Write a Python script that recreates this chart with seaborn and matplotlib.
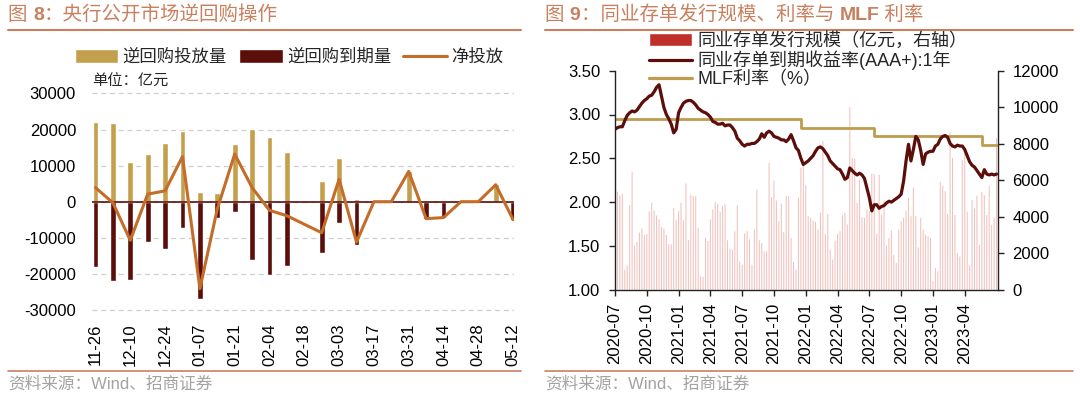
"""
Two-panel chart: PBOC reverse repo operations (fig 8) and NCD issuance,
NCD 1Y yield and MLF rate (fig 9). Saves out.png.
"""
import matplotlib
matplotlib.use("Agg")
import matplotlib.pyplot as plt
from matplotlib.lines import Line2D
from matplotlib.patches import Patch
import numpy as np
import pandas as pd
import seaborn as sns

# ---- fig 8: weekly reverse repo operations (亿元), 02-18 has no data
repo_weeks = ["11-26", "12-03", "12-10", "12-17", "12-24", "12-31", "01-07", "01-14",
              "01-21", "01-28", "02-04", "02-11", "02-18", "02-25", "03-03", "03-10",
              "03-17", "03-24", "03-31", "04-07", "04-14", "04-21", "04-28", "05-05", "05-12"]
repo_inject = [22000, 21800, 11100, 13200, 16200, 19700, 2800, 2500, 16000, 20100, 17900,
               13900, np.nan, 5600, 12000, 800, 200, 200, 8600, 0, 0, 200, 200, 4900, 0]
repo_mature = [-18100, -22100, -21800, -11100, -13200, -7200, -26900, -4600, -2800, -16200,
               -20300, -17800, np.nan, -14200, -5800, -12000, -200, -200, -200, -4700,
               -4400, -200, -200, -200, -5000]
repo_net = [3900, -300, -10700, 2100, 3000, 12500, -24100, -2000, 13200, 3900, -2400,
            -3900, np.nan, -8600, 6200, -11200, 0, 0, 8400, -4700, -4400, 0, 0, 4700, -5000]

# ---- fig 9: weekly NCD issuance (亿元), 1Y AAA+ NCD yield (%), MLF (%)
ncd_tick_labels = ["2020-07", "2020-10", "2021-01", "2021-04", "2021-07", "2021-10",
                   "2022-01", "2022-04", "2022-07", "2022-10", "2023-01", "2023-04"]
ncd_issue = [
    1200, 5370, 5170, 5260, 1100, 1320, 4630, 6470, 2400, 2620, 3130, 3350, 2990, 3040,
    4300, 4760, 4340, 4070, 3850, 3430, 3350, 3000, 2490, 2490, 4490, 3810, 4300, 4760,
    3810, 5830, 2710, 5220, 5130, 5130, 3390, 730, 700, 2850, 2670, 3850, 4400, 4820,
    4700, 4270, 4610, 4670, 2710, 2250, 2200,
    3200, 4630, 1560, 1370, 3070, 3220, 2760, 1370, 3300, 5490, 2710, 2560, 2100, 2100,
    6960, 5070, 5990, 4890, 3750, 4710, 3150, 5130, 5130, 2840, 1520, 1100, 5040, 6690,
    6830, 5730, 4030, 3940, 3790, 3720, 3300, 4220, 8160, 3060, 4160, 2200, 1650, 2690,
    3060, 3210, 4090, 4220, 3580, 10000, 7220, 7180, 4760, 6040,
    3970, 3940, 4400, 4300, 6360, 6320, 3070, 6290, 4120, 4890, 2420, 2840, 3240, 1920,
    1460, 3300, 3750, 3940, 4340, 5040, 4030, 5590, 4030, 2330, 3940, 3300, 3020, 2930,
    2840, 460, 1190, 1010,
    5910, 5690, 5400, 4150, 8640, 7220, 4090, 2000, 1820, 7090, 7550, 4270, 1330, 4910,
    4450, 5150, 2450, 5360, 5180, 4090, 5690, 3550, 3950, 8310,
]
ncd_yield = [
    2.83, 2.85, 2.86, 2.86, 2.93, 2.99, 3.02, 3.04, 3.03, 3.05,
    3.09, 3.13, 3.16, 3.18, 3.21, 3.22, 3.26, 3.31, 3.34, 3.21,
    3.08, 3.00, 2.95, 2.89, 2.79, 2.83, 3.02, 3.08, 3.13, 3.15,
    3.16, 3.16, 3.14, 3.11, 3.07, 3.05, 3.03, 3.02, 3.00, 2.97,
    2.92, 2.91, 2.89, 2.89, 2.90, 2.87, 2.88, 2.88, 2.85, 2.81,
    2.73, 2.70, 2.66, 2.64, 2.66, 2.66, 2.67, 2.67, 2.69, 2.72,
    2.78, 2.74, 2.79, 2.81, 2.79, 2.75, 2.74, 2.73, 2.71, 2.71,
    2.69, 2.72, 2.77, 2.70, 2.62, 2.59, 2.50, 2.43, 2.45, 2.47,
    2.50, 2.53, 2.58, 2.62, 2.63, 2.61, 2.57, 2.53, 2.47, 2.44,
    2.41, 2.38, 2.37, 2.32, 2.26, 2.28, 2.39, 2.36, 2.33, 2.31,
    2.33, 2.31, 2.27, 2.16, 2.05, 1.90, 1.97, 1.97, 1.93, 1.95,
    1.96, 1.99, 2.01, 2.00, 2.02, 2.04, 2.06, 2.09, 2.24, 2.47,
    2.66, 2.47, 2.60, 2.75, 2.71, 2.59, 2.43, 2.55, 2.57, 2.58,
    2.58, 2.64, 2.66, 2.72, 2.75, 2.76, 2.74, 2.67, 2.64, 2.63,
    2.65, 2.64, 2.64, 2.60, 2.53, 2.46, 2.42, 2.40, 2.36, 2.32,
    2.28, 2.37, 2.32, 2.31, 2.32, 2.31, 2.32,
]
mlf_levels = [2.95, 2.85, 2.75, 2.65]
mlf_weeks = [76, 30, 44, 7]  # weeks spent at each level

# title pieces: (text, bold?)
title_8 = [("图 ", False), ("8", True), ("：央行公开市场逆回购操作", False)]
title_9 = [("图 ", False), ("9", True), ("：同业存单发行规模、利率与 ", False),
           ("MLF", True), (" 利率", False)]

GOLD = "#c4a04c"
MAROON = "#5b0e0a"
ORANGE = "#c46c2a"
TITLE_C = "#c9805f"
PINK = "#f0c0bb"
RED = "#c0302b"
MLF_C = "#bf9c4e"
GREY_TXT = "#a3a3a3"
FONTS = ["Liberation Sans", "Noto Sans CJK SC"]

W, H = 1080, 399


def px_box(left, top, right, bottom):
    return [left / W, 1 - bottom / H, (right - left) / W, (bottom - top) / H]


def rich_text(fig, x_px, y_px, pieces, **kw):
    """Write pieces one after another so single words can be bold."""
    renderer = fig.canvas.get_renderer()
    x = x_px
    for text, bold in pieces:
        t = fig.text(x / W, 1 - y_px / H, text, fontweight="bold" if bold else "normal",
                     va="center", ha="left", family=FONTS, **kw)
        x = t.get_window_extent(renderer).x1


sns.set_theme(style="white")
plt.rcParams["font.family"] = FONTS
plt.rcParams["axes.unicode_minus"] = False

fig = plt.figure(figsize=(W / 100, H / 100), dpi=100)

# ================= fig 8 =================
repo = pd.DataFrame({"week": repo_weeks, "inject": repo_inject,
                     "mature": repo_mature, "net": repo_net})
ax1 = fig.add_axes(px_box(92, 89.8, 514, 313.6))
sns.barplot(data=repo, x="week", y="inject", order=repo_weeks, color=GOLD,
            saturation=1, width=0.33, errorbar=None, ax=ax1)
sns.barplot(data=repo, x="week", y="mature", order=repo_weeks, color=MAROON,
            saturation=1, width=0.33, errorbar=None, ax=ax1)
net = repo.dropna(subset=["net"])
sns.lineplot(x=net.index.to_numpy(), y=net["net"].to_numpy(), color=ORANGE,
             lw=2.2, ax=ax1)
ax1.axhline(0, color=MAROON, lw=1.2, zorder=1.5)

ax1.set_xlim(-0.2, 24.05)
ax1.set_ylim(-31000, 31000)
ax1.set_yticks(range(-30000, 30001, 10000))
ax1.yaxis.grid(True, ls=(0, (4, 3)), color="#cfcfcf", lw=0.9)
ax1.xaxis.grid(False)
ax1.set_axisbelow(True)
ax1.set_xticks(range(0, 25, 2))
ax1.set_xticklabels(repo_weeks[::2], rotation=90)
ax1.tick_params(axis="x", length=0, pad=7, labelsize=12, labelcolor="black")
ax1.tick_params(axis="y", length=0, pad=11.5, labelsize=12, labelcolor="black")
ax1.set_xlabel("")
ax1.set_ylabel("")
for s in ax1.spines.values():
    s.set_visible(False)

fig.text(92 / W, 1 - 82 / H, "单位：亿元", fontsize=11, va="center", ha="left")
fig.legend(handles=[Patch(facecolor=GOLD), Patch(facecolor=MAROON),
                    Line2D([], [], color=ORANGE, lw=2.2)],
           labels=["逆回购投放量", "逆回购到期量", "净投放"],
           loc="center left", bbox_to_anchor=(75 / W, 1 - 57 / H), ncol=3,
           frameon=False, fontsize=12.5, handlelength=2.5, handleheight=0.9,
           handletextpad=0.25, columnspacing=0.7, borderpad=0, borderaxespad=0)

# ================= fig 9 =================
weeks = np.arange(len(ncd_yield))
mlf = np.repeat(mlf_levels, mlf_weeks)

axR = fig.add_axes(px_box(615, 70.7, 998, 289.7))
axB = axR.twinx()
sns.barplot(x=weeks, y=ncd_issue, native_scale=True, color=PINK, saturation=1,
            width=0.42, errorbar=None, linewidth=0, ax=axB)
# thin bars: keep them from snapping to zero width
for p in axB.patches:
    p.set_snap(False)
sns.lineplot(x=weeks, y=mlf, color=MLF_C, lw=2, drawstyle="steps-post", ax=axR)
sns.lineplot(x=weeks, y=ncd_yield, color=MAROON, lw=2.3, ax=axR)
axR.set_zorder(axB.get_zorder() + 1)
axR.patch.set_visible(False)

axR.set_xlim(0, 156.6)
axR.set_ylim(1.0, 3.5)
axR.set_yticks(np.arange(1.0, 3.51, 0.5))
axR.set_yticklabels([f"{v:.2f}" for v in np.arange(1.0, 3.51, 0.5)])
axB.set_ylim(0, 12000)
axB.set_yticks(range(0, 12001, 2000))
axR.set_xticks(range(0, 144, 13))
axR.set_xticklabels(ncd_tick_labels, rotation=90)
for a in (axR, axB):
    a.grid(False)
    a.set_xlabel("")
    a.set_ylabel("")
    a.spines["top"].set_visible(False)
axR.spines["right"].set_visible(False)
axB.spines["left"].set_visible(False)
axB.spines["bottom"].set_visible(False)
for s in (axR.spines["left"], axR.spines["bottom"], axB.spines["right"]):
    s.set_color("#222222")
    s.set_linewidth(1)
axR.tick_params(axis="y", direction="out", length=4, width=1, pad=6.5,
                labelsize=12, left=True, color="#222222", labelcolor="black")
axR.tick_params(axis="x", direction="out", length=4, width=1, pad=5.5,
                labelsize=12, bottom=True, color="#222222", labelcolor="black")
axB.tick_params(axis="y", direction="out", length=4, width=1, pad=6.5,
                labelsize=12, right=True, color="#222222", labelcolor="black")

fig.legend(handles=[Patch(facecolor=RED), Line2D([], [], color=MAROON, lw=2.3),
                    Line2D([], [], color=MLF_C, lw=2.3)],
           labels=["同业存单发行规模（亿元，右轴）", "同业存单到期收益率(AAA+):1年", "MLF利率（%）"],
           loc="upper left", bbox_to_anchor=(649 / W, 1 - 32 / H), frameon=False,
           fontsize=13, handlelength=2.4, handleheight=0.8, labelspacing=0.05,
           handletextpad=0.3, borderpad=0, borderaxespad=0)

# ================= titles, rules, sources =================
rich_text(fig, 8, 15, title_8, color=TITLE_C, fontsize=14)
rich_text(fig, 545, 15, title_9, color=TITLE_C, fontsize=14)
for x0, x1 in ((8, 521), (545, 1073)):
    fig.add_artist(Line2D([x0 / W, x1 / W], [1 - 30 / H] * 2, color=TITLE_C, lw=1.5,
                          transform=fig.transFigure))
    fig.add_artist(Line2D([x0 / W, x1 / W], [1 - 370.7 / H] * 2, color=TITLE_C, lw=1.2,
                          transform=fig.transFigure))
    fig.text(x0 / W, 1 - 384 / H, "资料来源：Wind、招商证券", color=GREY_TXT,
             fontsize=12, va="center", ha="left")

fig.savefig("out.png", dpi=100)
